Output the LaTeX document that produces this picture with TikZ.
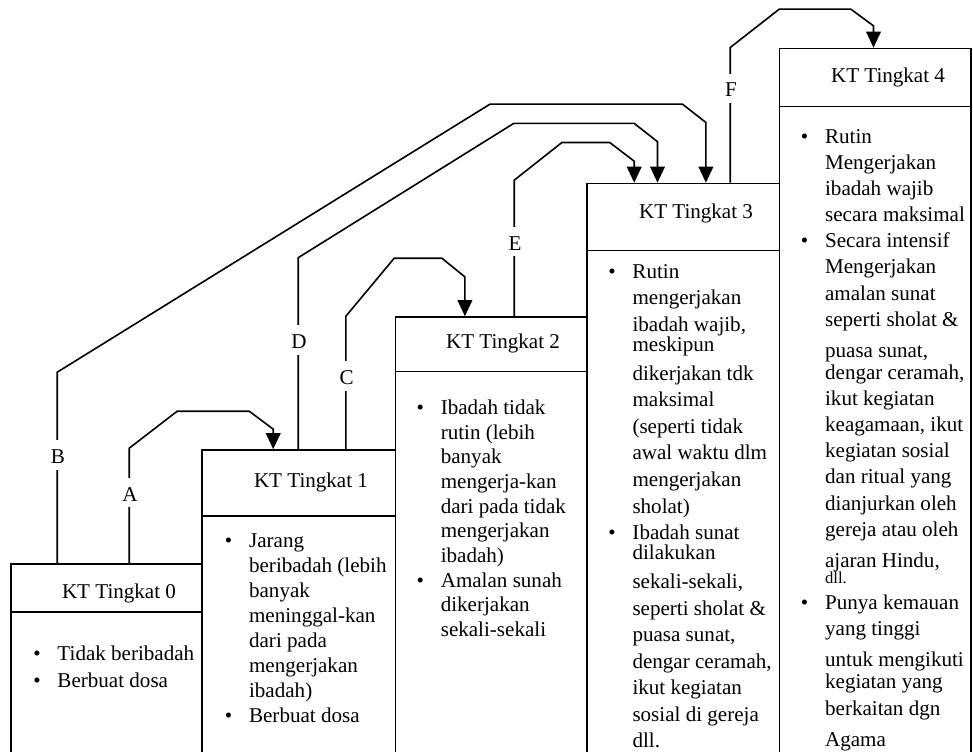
\documentclass[tikz,border=0pt]{standalone}
\usepackage{fontspec}
\setmainfont{Liberation Serif}
\usetikzlibrary{arrows.meta,calc,fit}
\newcommand\bul{\llap{\textbullet\hspace{12.6pt}}}

\begin{document}
\begin{tikzpicture}[x=0.75pt, y=-0.75pt, line width=1.2pt, line join=miter, >={Triangle[length=12pt,width=11pt]},
	font=\fontsize{15.8}{18.6}\selectfont,
	box/.style={draw, inner sep=0pt},
	head/.style={inner sep=0pt},
	body/.style={anchor=north west, align=left, inner sep=0pt},
	lbl/.style={anchor=base, fill=white, inner xsep=2pt, inner ysep=4.5pt, text height=1.3em, text depth=0pt}]
	\useasboundingbox (0,0) rectangle (973,752);
	% boxes
	\node[box, fit={(10.7,564) (202,611.7)}] (hdr0) {};
	\node[box, fit={(10.7,611.7) (202,765)}] (body0) {};
	\node[box, fit={(202,450) (395.5,515.7)}] (hdr1) {};
	\node[box, fit={(202,515.7) (395.5,765)}] (body1) {};
	\node[box, fit={(395.5,317) (586.7,371.5)}] (hdr2) {};
	\node[box, fit={(395.5,371.5) (586.7,765)}] (body2) {};
	\node[box, fit={(586.7,183.5) (779.5,250.5)}] (hdr3) {};
	\node[box, fit={(586.7,250.5) (779.5,765)}] (body3) {};
	\node[box, fit={(779.5,48.5) (971,106.7)}] (hdr4) {};
	\node[box, fit={(779.5,106.7) (971,765)}] (body4) {};
	% titles
	\node[head] (t0) at (119,593.5) {KT Tingkat 0};
	\node[head] (t1) at (311,482) {KT Tingkat 1};
	\node[head] (t2) at (503,343.5) {KT Tingkat 2};
	\node[head] (t3) at (696,213.5) {KT Tingkat 3};
	\node[head] (t4) at (888,77) {KT Tingkat 4};
	% contents
	\node[body, font=\fontsize{15.8}{20.55}\selectfont] (c0) at (56.7,645) {\bul Tidak beribadah\\ \bul Berbuat dosa};
	\node[body, font=\fontsize{15.8}{18.7}\selectfont] (c1) at (248.3,533.3) {\bul Jarang\\ beribadah (lebih\\ banyak\\ meninggal-kan\\ dari pada\\ mengerjakan\\ ibadah)\\ \bul Berbuat dosa};
	\node[body, font=\fontsize{15.8}{18.5}\selectfont] (c2) at (440,399) {\bul Ibadah tidak\\ rutin (lebih\\ banyak\\ mengerja-kan\\ dari pada tidak\\ mengerjakan\\ ibadah)\\ \bul Amalan sunah\\ dikerjakan\\ sekali-sekali};
	\node[body, font=\fontsize{15.8}{19.9}\selectfont] (c3) at (631.7,263.5) {\bul Rutin\\ mengerjakan\\ ibadah wajib,\\[-5pt] meskipun\\[2pt] dikerjakan tdk\\ maksimal\\ (seperti tidak\\ awal waktu dlm\\ mengerjakan\\ sholat)\\ \bul Ibadah sunat\\[-5pt] dilakukan\\[2pt] sekali-sekali,\\ seperti sholat \&\\ puasa sunat,\\ dengar ceramah,\\ ikut kegiatan\\ sosial di gereja\\ dll.};
	\node[body, font=\fontsize{15.8}{19.6}\selectfont] (c4) at (824.3,128.5) {\bul Rutin\\ Mengerjakan\\ ibadah wajib\\ secara maksimal\\ \bul Secara intensif\\ Mengerjakan\\ amalan sunat\\ seperti sholat \&\\[3.75pt] puasa sunat,\\[-3pt] dengar ceramah,\\ ikut kegiatan\\ keagamaan, ikut\\ kegiatan sosial\\ dan ritual yang\\ dianjurkan oleh\\ gereja atau oleh\\[3.75pt] ajaran Hindu,\\[-7.6pt] {\fontsize{12.5}{12.5}\selectfont dll.}\\ \bul Punya kemauan\\ yang tinggi\\[3.75pt] untuk mengikuti\\[-3pt] kegiatan yang\\ berkaitan dgn\\[3.75pt] Agama};
	% connectors
	\draw[->] ($(hdr0.north west)+(119.3,0)$) -- ++(0,-115) -- ++(48,-37) -- ++(72,0) -- ++(24,18) -- ($(hdr1.north west)+(72,0)$);
	\draw[->] ($(hdr0.north west)+(47.3,0)$) -- ++(0,-191) -- ++(432.7,-268) -- ++(192.6,0) -- ++(23.4,18.3) -- ($(hdr3.north west)+(120,0)$);
	\draw[->] ($(hdr1.north west)+(144.7,0)$) -- ++(0,-133) -- ++(48.3,-58) -- ++(47.7,0) -- ++(23,18.7) -- ($(hdr2.north west)+(70.2,0)$);
	\draw[->] ($(hdr1.north west)+(97,0)$) -- ++(0,-191.5) -- ++(215.5,-134.3) -- ++(120.5,0) -- ++(23.3,18.3) -- ($(hdr3.north west)+(71.6,0)$);
	\draw[->] ($(hdr2.north west)+(119.5,0)$) -- ++(0,-136) -- ++(47.7,-37.7) -- ++(47.8,0) -- ++(24.5,18.7) -- ($(hdr3.north west)+(48.3,0)$);
	\draw[->] ($(hdr3.north west)+(144.3,0)$) -- ++(0,-135.2) -- ++(49,-38.3) -- ++(71.7,0) -- ++(22.6,16.7) -- ($(hdr4.north west)+(94.8,0)$);
	% labels
	\node[lbl] (la) at (130,501) {A};
	\node[lbl] (lb) at (58,463.7) {B};
	\node[lbl] (lc) at (346.7,384.7) {C};
	\node[lbl] (ld) at (299,348.7) {D};
	\node[lbl] (le) at (515,250) {E};
	\node[lbl] (lf) at (731,97) {F};
\end{tikzpicture}
\end{document}
